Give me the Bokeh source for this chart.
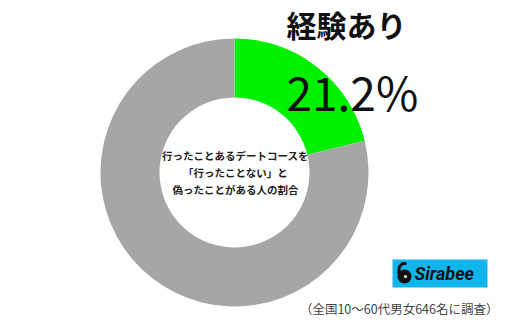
import numpy as np
from bokeh.plotting import figure
from bokeh.models import Range1d, ColumnDataSource
from bokeh.core.properties import value
from bokeh.embed import file_html
from bokeh.resources import INLINE

categories = ["経験あり", "経験なし"]
shares = [21.2, 78.8]
colors = ["#00f000", "#a6a6a6"]
title_text = "経験あり"
value_text = "21.2%"
center_lines = ["行ったことあるデートコースを", "「行ったことない」と", "偽ったことがある人の割合"]
footer_text = "（全国10～60代男女646名に調査）"
logo_text = "Sirabee"

W, H = 511, 321
p = figure(width=W, height=H, output_backend="svg", toolbar_location=None,
           x_range=Range1d(0, W), y_range=Range1d(0, H), min_border=0)
p.axis.visible = False
p.grid.visible = False
p.outline_line_color = None
p.background_fill_color = "white"
p.border_fill_color = "white"

cx, cy = 234, H - 172
frac = np.array(shares) / sum(shares)
ends = np.pi / 2 - 2 * np.pi * np.cumsum(frac)
starts = np.concatenate([[np.pi / 2], ends[:-1]])
src = ColumnDataSource(dict(start=starts, end=ends, color=colors, cat=categories))
p.annular_wedge(x=cx, y=cy, inner_radius=75, outer_radius=134,
                start_angle="start", end_angle="end", direction="clock",
                fill_color="color", line_color=None, source=src)

jp = value("Noto Sans CJK JP")
p.text(x=[286], y=[H - 23], text=[title_text], text_font=jp, text_font_size="30px",
       text_font_style="bold", text_color="#111111", text_baseline="middle", text_align="left")
p.text(x=[286], y=[H - 90], text=[value_text], text_font=jp, text_font_size="46px",
       text_color="#111111", text_baseline="middle", text_align="left")
p.text(x=[cx + 1] * 3, y=[H - 155, H - 172, H - 189], text=center_lines, text_font=jp,
       text_font_size="10.5px", text_font_style="bold", text_color="#222222",
       text_baseline="middle", text_align="center")
p.text(x=[498], y=[H - 308], text=[footer_text], text_font=jp, text_font_size="12.5px",
       text_color="#444444", text_baseline="middle", text_align="right")

# logo
p.quad(left=[392], right=[487], bottom=[H - 287], top=[H - 259], fill_color="#12b5ea", line_color=None)
p.scatter(x=[404], y=[H - 276], size=14, marker="circle", fill_color="#111111", line_color=None)
p.line(x=[398, 399, 402, 406], y=[H - 273, H - 266, H - 263, H - 263], line_color="#111111", line_width=3)
p.scatter(x=[405], y=[H - 276], size=3, marker="circle", fill_color="white", line_color=None)
p.text(x=[414], y=[H - 273], text=[logo_text], text_font=value("Roboto"), text_font_size="18px",
       text_font_style="bold italic", text_color="#111111", text_baseline="middle", text_align="left")

open("out.html", "w").write(file_html(p, INLINE))
